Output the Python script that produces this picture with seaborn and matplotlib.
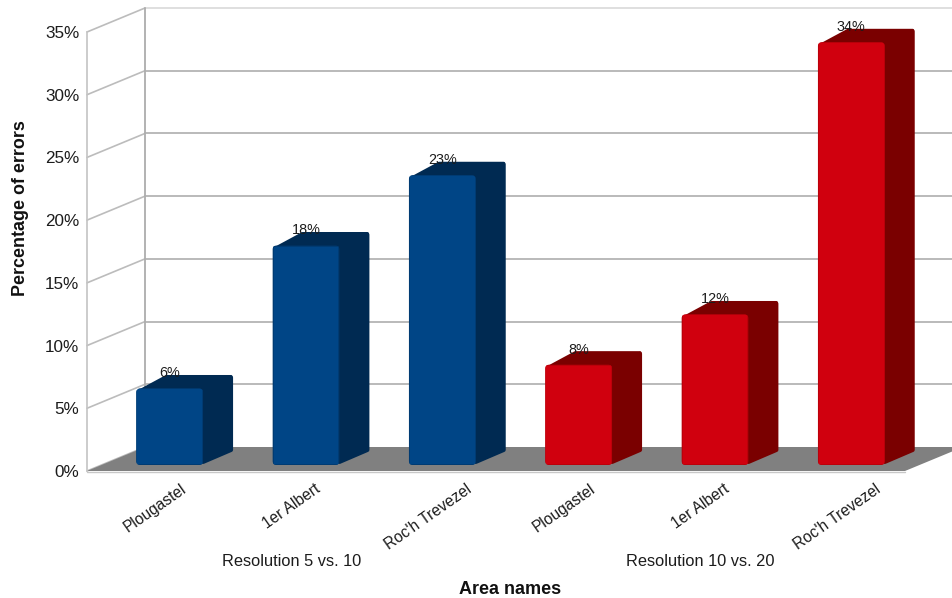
import matplotlib
matplotlib.use("Agg")
import matplotlib.pyplot as plt
import pandas as pd
import seaborn as sns
from matplotlib.patches import Polygon, FancyBboxPatch
from matplotlib.lines import Line2D
from matplotlib.transforms import Affine2D, IdentityTransform

areas = ["Plougastel", "1er Albert", "Roc'h Trevezel"]
groups = ["Resolution 5 vs. 10", "Resolution 10 vs. 20"]
values_5_10 = [6.1, 17.5, 23.1]
values_10_20 = [8.0, 12.0, 33.7]
yticks = [0, 5, 10, 15, 20, 25, 30, 35]

front_colors = {groups[0]: "#004586", groups[1]: "#d0000e"}
dark_colors = {groups[0]: "#002a52", groups[1]: "#7a0000"}
edge_colors = {groups[0]: "#003a70", groups[1]: "#b8000a"}

W, H = 953, 598
DX, DY = 58, 24  # full depth of the box in pixels
TXT = "#1c1c1c"

sns.set_theme(style="white")
plt.rcParams["font.family"] = ["Liberation Sans", "DejaVu Sans"]

fig = plt.figure(figsize=(W / 100, H / 100), dpi=100)
ax = fig.add_axes([87 / W, (H - 471) / H, 818 / W, 439 / H])

df = pd.DataFrame({
    "slot": list(range(6)),
    "errors": values_5_10 + values_10_20,
    "resolution": [groups[0]] * 3 + [groups[1]] * 3,
})
sns.barplot(data=df, x="slot", y="errors", hue="resolution", dodge=False, width=0.49, saturation=1,
            palette=front_colors, hue_order=groups, legend=False, ax=ax, zorder=5)
bars = [p for c in ax.containers for p in c if p.get_height() > 0]
bars = sorted(bars, key=lambda p: p.get_x())
ax.set_xlim(-0.5, 5.5)
ax.set_ylim(0, 35)
ax.patch.set_alpha(0)
for s in ["top", "right", "bottom"]:
    ax.spines[s].set_visible(False)
ax.spines["left"].set_color("#c4c4c4")
ax.spines["left"].set_linewidth(1.2)


def shifted(d):
    return ax.transData + Affine2D().translate(d * DX, d * DY)


def project(x, y, d):
    px, py = ax.transData.transform((x, y))
    return (px + d * DX, py + d * DY)


# floor
floor = [project(-0.5, 0, 0), project(-0.5, 0, 1), project(5.5, 0, 1), project(5.5, 0, 0)]
ax.add_patch(Polygon(floor, closed=True, transform=IdentityTransform(), facecolor="#808080",
                     edgecolor="none", zorder=2, clip_on=False))
ax.add_line(Line2D([-0.5, 5.5], [0, 0], color="#c8c8c8", lw=1.0, zorder=2, clip_on=False,
                   transform=ax.transData + Affine2D().translate(0, -1)))

# walls
for v in yticks:
    col = "#dcdcdc" if v == 35 else "#b4b4b4"
    if v > 0:
        ax.add_line(Line2D([-0.5, 5.5], [v, v], color=col, lw=1.3, transform=shifted(1),
                           zorder=1, clip_on=False))
    p0 = project(-0.5, v, 0)
    p1 = project(-0.5, v, 1)
    ax.add_line(Line2D([p0[0], p1[0]], [p0[1], p1[1]], color="#bcbcbc", lw=1.2,
                       transform=IdentityTransform(), zorder=1, clip_on=False))
ax.add_line(Line2D([-0.5, -0.5], [0, 35], color="#adadad", lw=1.3, transform=shifted(1),
                   zorder=1, clip_on=False))

# bars: the library's rectangles are the front faces, extruded from depth .25 to .75
z = 5
for bar, row in zip(bars, df.itertuples()):
    x0, x1, v = bar.get_x(), bar.get_x() + bar.get_width(), bar.get_height()
    dark = dark_colors[row.resolution]
    side = [project(x1, 0, .25), project(x1, 0, .75), project(x1, v, .75), project(x1, v, .25)]
    tl = project(x0, v, .25)
    top = [(tl[0] + 4, tl[1] - 2), project(x1, v, .25), project(x1, v, .75), project(x0, v, .75)]
    side_in = [(side[0][0], side[0][1] + 3), (side[1][0] - 1, side[1][1] + 3),
               (side[2][0] - 1, side[2][1] - 1), (side[3][0], side[3][1] - 1)]
    top_in = [top[0], top[1], (top[2][0] - 1, top[2][1]), (top[3][0] + 1, top[3][1])]
    for inner, w in ((side_in, 4.0), (top_in, 3.0)):
        ax.add_patch(Polygon(inner, closed=True, transform=IdentityTransform(), facecolor=dark,
                             edgecolor=dark, lw=w * .72, joinstyle="round", zorder=z, clip_on=False))
    bar.set_transform(shifted(.25))
    bar.set_zorder(z + 1)
    bar.set_edgecolor(edge_colors[row.resolution])
    bar.set_linewidth(1.2)
    a = project(x0, 0, .25)
    b = project(x1, v, .25)
    round_box = FancyBboxPatch((a[0] + 1, a[1] + 1), b[0] - a[0] - 2, b[1] - a[1] - 2,
                               boxstyle="round,pad=1,rounding_size=4",
                               transform=IdentityTransform(), facecolor="none", edgecolor="none")
    bar.set_clip_path(round_box)
    ax.annotate(f"{v:.0f}%", xy=((x0 + x1) / 2, v), xytext=(0.25 * DX * .72, (0.25 * DY + 15) * .72),
                textcoords="offset points", ha="center", va="center", fontsize=10.4, color=TXT,
                zorder=30, annotation_clip=False)
    z += 2

# axes text
ax.set_yticks(yticks)
ax.set_yticklabels([f"{v}%" for v in yticks], fontsize=12.3, color=TXT)
ax.tick_params(axis="y", length=0, pad=5.5)
ax.set_xticks(range(6))
ax.set_xticklabels(areas * 2, fontsize=11.2, color=TXT, rotation=35, ha="center", va="top")
ax.tick_params(axis="x", length=0, pad=7.5)

ax.set_xlabel("Area names", fontsize=13.0, fontweight="bold", color="#111111", va="center")
ax.xaxis.set_label_coords((510 - 87) / 818, (471 - 590) / 439)
ax.set_ylabel("Percentage of errors", fontsize=12.9, fontweight="bold", color="#111111", va="center")
ax.yaxis.set_label_coords((21 - 87) / 818, (471 - 208) / 439)

for group, slot in zip(groups, (1, 4)):
    ax.text(slot, (471 - 562) / 439, group, transform=ax.get_xaxis_transform(), ha="center", va="center",
            fontsize=11.8, color=TXT, clip_on=False)

fig.savefig("out.png", dpi=100)
